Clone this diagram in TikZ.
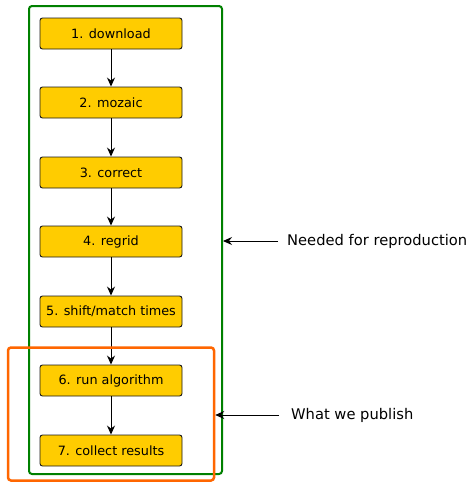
\documentclass[tikz,border=0pt]{standalone}
\usepackage{fontspec}
\setmainfont{DejaVu Sans}
\usepackage{xcolor}
\usetikzlibrary{arrows.meta,positioning}
\definecolor{stepyellow}{HTML}{FFCC00}
\definecolor{reprogreen}{HTML}{008000}
\definecolor{puborange}{HTML}{FF6600}
\tikzset{
  stepbox/.style={draw=black!90, line width=0.9pt, rounded corners=2.5pt, fill=stepyellow, minimum width=142pt, minimum height=31pt, align=center, inner sep=0pt, font=\fontsize{12.8}{15}\selectfont},
  frame/.style={draw, rounded corners=3pt, minimum width=#1, inner sep=0pt},
  note/.style={align=left, inner sep=0pt, font=\fontsize{14.7}{17}\selectfont},
  flow/.style={-{Stealth[length=9pt,width=8pt,inset=3pt]}, line width=1pt, black},
  pointer/.style={-{Stealth[length=9pt,width=8pt,inset=3pt]}, line width=0.9pt, black}
}
\begin{document}
\begin{tikzpicture}[x=1pt,y=-1pt]
  \useasboundingbox (0,0) rectangle (473,483);

  \node[stepbox] (download) at (111,33.5) {1. download};
  \node[stepbox] (mozaic) at (111,102.5) {2. mozaic};
  \node[stepbox] (correct) at (111,172.5) {3. correct};
  \node[stepbox] (regrid) at (111,241.5) {4. regrid};
  \node[stepbox] (shift) at (111,311.5) {5. shift/match times};
  \node[stepbox] (algorithm) at (111,380.5) {6. run algorithm};
  \node[stepbox] (collect) at (111,450.5) {7. collect results};

  \draw[flow] (download.south) -- (mozaic.north);
  \draw[flow] (mozaic.south) -- (correct.north);
  \draw[flow] (correct.south) -- (regrid.north);
  \draw[flow] (regrid.south) -- (shift.north);
  \draw[flow] (shift.south) -- (algorithm.north);
  \draw[flow] (algorithm.south) -- (collect.north);

  % frames around the steps
  \node[frame=193pt, draw=reprogreen, line width=2pt, minimum height=468pt] (repro) at (125.5,240) {};
  \node[frame=206pt, draw=puborange, line width=2.5pt, minimum height=133pt] (publish) at (111,414) {};

  \node[note, anchor=west] (reprolabel) at (287,241) {Needed for reproduction};
  \node[note, anchor=west] (publabel) at (291,415) {What we publish};
  \draw[pointer] ([xshift=-9pt]reprolabel.west) -- (repro.east |- reprolabel.west);
  \draw[pointer] ([xshift=-12pt]publabel.west) -- (publish.east |- publabel.west);
\end{tikzpicture}
\end{document}
